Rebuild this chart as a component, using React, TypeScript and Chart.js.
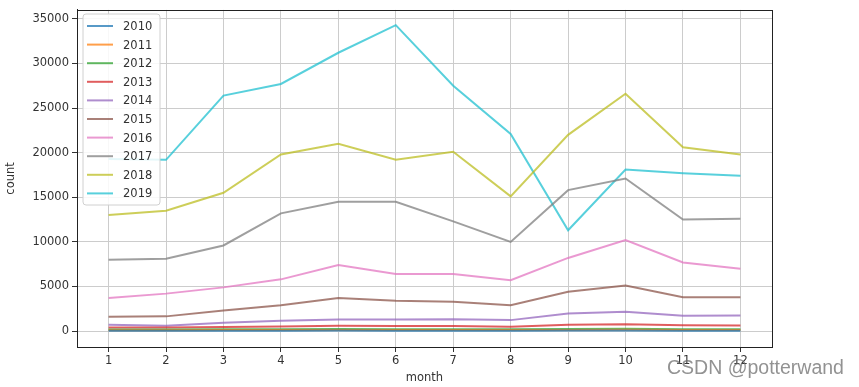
import React, { useEffect, useRef } from "react";
import { Chart, registerables } from "chart.js";

Chart.register(...registerables);

const months = [1, 2, 3, 4, 5, 6, 7, 8, 9, 10, 11, 12];
const years = ["2010", "2011", "2012", "2013", "2014", "2015", "2016", "2017", "2018", "2019"];
const colors = [
  "rgba(31,119,180,0.75)",
  "rgba(255,127,14,0.75)",
  "rgba(44,160,44,0.75)",
  "rgba(214,39,40,0.75)",
  "rgba(148,103,189,0.75)",
  "rgba(140,86,75,0.75)",
  "rgba(227,119,194,0.75)",
  "rgba(127,127,127,0.75)",
  "rgba(188,189,34,0.75)",
  "rgba(23,190,207,0.72)",
];

const y2010 = [40, 40, 45, 50, 55, 50, 50, 45, 55, 60, 50, 50];
const y2011 = [100, 100, 110, 120, 130, 120, 120, 110, 130, 140, 120, 120];
const y2012 = [180, 180, 200, 210, 230, 220, 220, 200, 240, 260, 220, 220];
const y2013 = [400, 400, 460, 520, 590, 560, 560, 480, 700, 780, 660, 640];
const y2014 = [700, 600, 930, 1150, 1300, 1300, 1340, 1230, 1980, 2160, 1710, 1750];
const y2015 = [1600, 1650, 2300, 2900, 3700, 3400, 3300, 2900, 4400, 5100, 3800, 3800];
const y2016 = [3700, 4200, 4900, 5800, 7400, 6400, 6400, 5700, 8200, 10200, 7700, 7000];
const y2017 = [8000, 8100, 9600, 13200, 14500, 14500, 12300, 10000, 15800, 17100, 12500, 12600];
const y2018 = [13000, 13500, 15500, 19800, 21000, 19200, 20100, 15100, 22000, 26600, 20600, 19800];
const y2019 = [19300, 19200, 26400, 27700, 31200, 34300, 27500, 22100, 11300, 18100, 17700, 17400];
const series = [y2010, y2011, y2012, y2013, y2014, y2015, y2016, y2017, y2018, y2019];

const yTicks = [0, 5000, 10000, 15000, 20000, 25000, 30000, 35000];

const FONT = "'DejaVu Sans', sans-serif";
const TEXT = "#333333";

const framePlugin = {
  id: "frame",
  afterDraw(chart: any) {
    const { ctx, chartArea: a } = chart;
    ctx.save();
    ctx.strokeStyle = "#222";
    ctx.lineWidth = 1;
    ctx.strokeRect(Math.round(a.left) + 0.5, Math.round(a.top) + 0.5, Math.round(a.right - a.left), Math.round(a.bottom - a.top));

    // legend
    const lx = 83, ly = 14, lw = 77, lh = 191;
    ctx.fillStyle = "rgba(255,255,255,0.85)";
    ctx.strokeStyle = "#d0d0d0";
    ctx.beginPath();
    const r = 3;
    ctx.moveTo(lx + r, ly);
    ctx.arcTo(lx + lw, ly, lx + lw, ly + lh, r);
    ctx.arcTo(lx + lw, ly + lh, lx, ly + lh, r);
    ctx.arcTo(lx, ly + lh, lx, ly, r);
    ctx.arcTo(lx, ly, lx + lw, ly, r);
    ctx.closePath();
    ctx.fill();
    ctx.stroke();
    ctx.font = `11.5px ${FONT}`;
    ctx.textBaseline = "middle";
    chart.data.datasets.forEach((ds: any, i: number) => {
      const yy = 26 + i * 18.6;
      ctx.strokeStyle = ds.borderColor;
      ctx.lineWidth = 2;
      ctx.beginPath();
      ctx.moveTo(87, yy);
      ctx.lineTo(113, yy);
      ctx.stroke();
      ctx.fillStyle = TEXT;
      ctx.fillText(ds.label, 123, yy + 1);
    });

    // watermark
    ctx.font = "19.5px 'Liberation Sans', sans-serif";
    ctx.fillStyle = "rgba(110,110,110,0.75)";
    ctx.textBaseline = "alphabetic";
    ctx.fillText("CSDN @potterwand", 667, 374);
    ctx.restore();
  },
};

export default function App() {
  const ref = useRef<HTMLCanvasElement>(null);
  useEffect(() => {
    document.body.style.margin = "0";
    const chart = new Chart(ref.current!, {
      type: "line",
      data: {
        datasets: years.map((label, i) => ({
          label,
          data: series[i].map((v, j) => ({ x: months[j], y: v })),
          borderColor: colors[i],
          backgroundColor: colors[i],
          borderWidth: 2,
          pointRadius: 0,
          tension: 0,
        })),
      },
      options: {
        responsive: false,
        animation: false,
        layout: { padding: { top: 8, right: 87, bottom: 0, left: 0 } },
        plugins: { legend: { display: false }, tooltip: { enabled: false } },
        scales: {
          x: {
            type: "linear",
            min: 0.45,
            max: 12.55,
            afterBuildTicks: (s: any) => {
              s.ticks = months.map((m) => ({ value: m }));
            },
            afterFit: (s: any) => {
              s.height = 40;
            },
            ticks: { font: { family: FONT, size: 11.5 }, color: TEXT, padding: 2, callback: (v: any) => String(v) },
            grid: { color: "#cccccc", tickColor: "#333", tickLength: 5, lineWidth: 1 },
            border: { color: "#222", width: 1 },
            title: { display: true, text: "month", font: { family: FONT, size: 11.5 }, color: TEXT, padding: { top: 1, bottom: 2 } },
          },
          y: {
            min: -1783,
            max: 36003,
            afterBuildTicks: (s: any) => {
              s.ticks = yTicks.map((v) => ({ value: v }));
            },
            afterFit: (s: any) => {
              s.width = 77;
            },
            ticks: { font: { family: FONT, size: 11.5 }, color: TEXT, padding: 3, callback: (v: any) => String(v) },
            grid: { color: "#cccccc", tickColor: "#333", tickLength: 5, lineWidth: 1 },
            border: { color: "#222", width: 1 },
            title: { display: true, text: "count", font: { family: FONT, size: 11.5 }, color: TEXT, padding: { top: 4, bottom: 4 } },
          },
        },
      },
      plugins: [framePlugin],
    });
    return () => chart.destroy();
  }, []);
  return (
    <div style={{ position: "absolute", left: 0, top: 0, width: 859, height: 387, background: "#fff" }}>
      <canvas ref={ref} width={859} height={387} />
    </div>
  );
}
